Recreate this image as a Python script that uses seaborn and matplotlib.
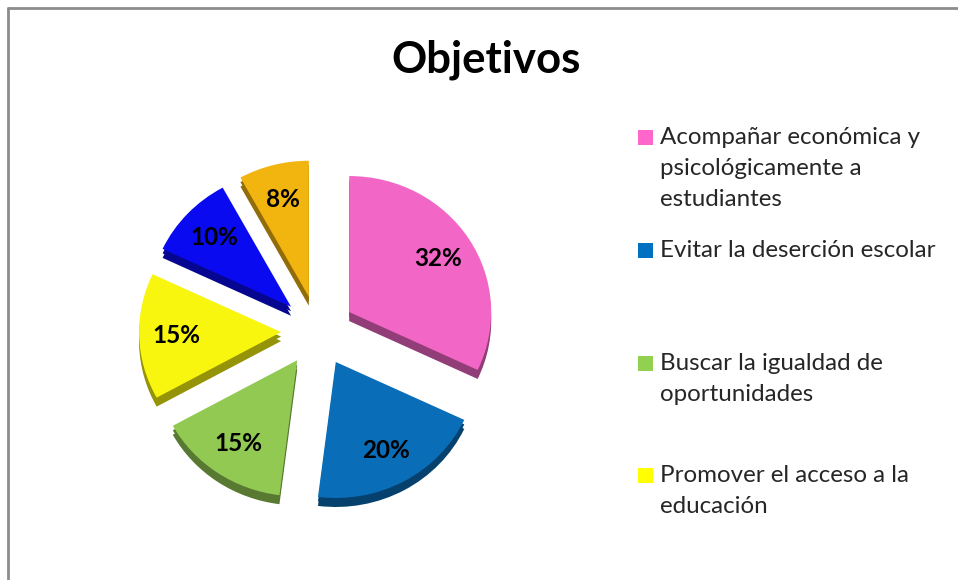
import matplotlib
matplotlib.use("Agg")
import matplotlib.pyplot as plt
import seaborn as sns
from matplotlib.patches import Rectangle
from matplotlib.lines import Line2D
import matplotlib.colors as mcolors

sns.set_theme(style="white")
plt.rcParams['font.family'] = ['Lato', 'DejaVu Sans']

title = "Objetivos"
categories = [
    "Acompañar económica y\npsicológicamente a\nestudiantes",
    "Evitar la deserción escolar",
    "Buscar la igualdad de\noportunidades",
    "Promover el acceso a la\neducación",
    "",
    "",
]
values = [32, 20, 15, 15, 10, 8]
colors = ["#F266C6", "#0A6DB8", "#92C953", "#F8F50E", "#0A0AF0", "#F2B40E"]
legend_colors = ["#FF66CC", "#0070C0", "#92D050", "#FFFF00"]

W, H = 958, 580
fig = plt.figure(figsize=(W / 100, H / 100), dpi=100)
fig.patch.set_facecolor("white")

# border (left and top visible)
fig.add_artist(Line2D([8 / W, 8 / W], [0, 1 - 8 / H], transform=fig.transFigure, color="#8c8c8c", lw=2))
fig.add_artist(Line2D([8 / W, 1], [1 - 8 / H, 1 - 8 / H], transform=fig.transFigure, color="#8c8c8c", lw=2))

# pie axes: center (318, 331) px, radii 142 x 136 px (slight 3D tilt)
cx, cy, Rx, Ry = 318, 331, 142, 136
half = 215
ax = fig.add_axes([(cx - half) / W, (H - cy - half) / H, 2 * half / W, 2 * half / H])
ax.axis("off")

explode = [0.26] * len(values)
dark = [tuple(c * 0.6 for c in mcolors.to_rgb(col)) for col in colors]
off = 9 / Ry
ax.pie(values, colors=dark, startangle=90, counterclock=False, explode=explode,
       center=(0, -off), radius=1, wedgeprops=dict(linewidth=0), frame=False)
ax.pie(values, colors=dark, startangle=90, counterclock=False, explode=explode,
       center=(0, -off / 2), radius=1, wedgeprops=dict(linewidth=0), frame=False)
wedges, texts, autotexts = ax.pie(
    values, colors=colors, startangle=90, counterclock=False, explode=explode,
    center=(0, 0), radius=1, autopct="%1.0f%%", pctdistance=0.74,
    wedgeprops=dict(linewidth=0), frame=False,
    textprops=dict(fontsize=17.5, fontweight="bold", color="black"))
ax.set_aspect("auto")
ax.set_xlim(-half / Rx, half / Rx)
ax.set_ylim(-half / Ry, half / Ry)
ax.axis("off")

# title
fig.text(486 / W, 1 - 60 / H, title, ha="center", va="center", fontsize=31.5, fontweight="bold", color="black")

# legend (first four entries visible)
entry_y = [137, 250, 363, 475]
for lab, col, y in zip(categories[:4], legend_colors, entry_y):
    fig.add_artist(Rectangle((638 / W, 1 - (y + 7.5) / H), 15 / W, 15 / H,
                             transform=fig.transFigure, facecolor=col, edgecolor="none"))
    fig.text(660 / W, 1 - (y - 10) / H, lab, ha="left", va="top", fontsize=17.4,
             color="#262626", linespacing=1.58)

fig.savefig("out.png", dpi=100, facecolor="white")
